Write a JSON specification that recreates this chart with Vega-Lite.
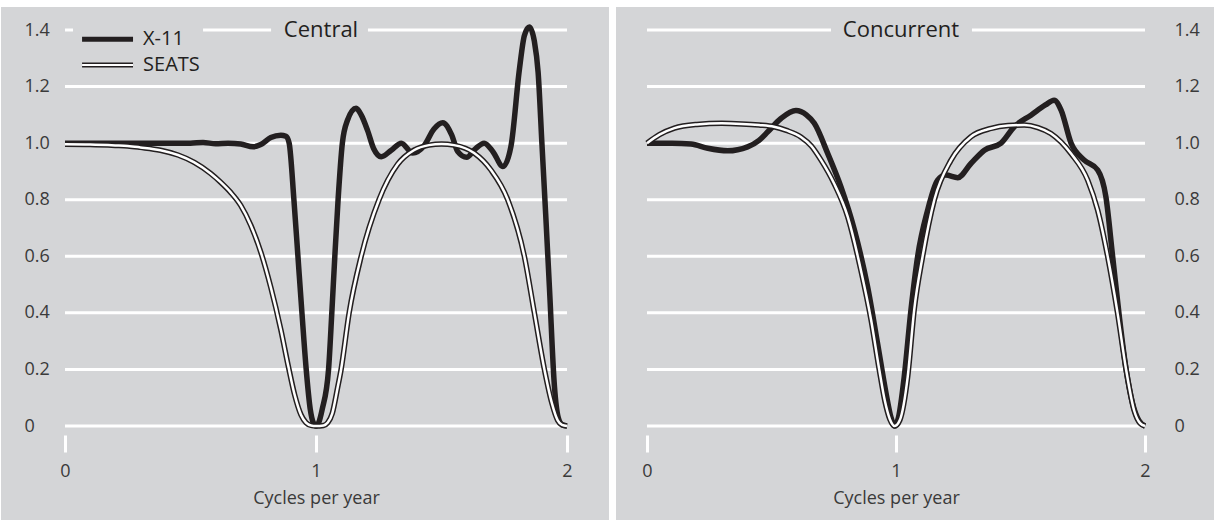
{
"$schema": "https://vega.github.io/schema/vega-lite/v6.json",
"background": "white",
"padding": {"left": 0, "top": 7, "right": 0, "bottom": 0},
"autosize": {"type": "pad"},
"bounds": "flush",
"spacing": 80,
"config": {"view": {"stroke": null}, "font": "Open Sans"},
"datasets": {
"curves": [
{"panel":"Central","series":"X-11","f":0,"v":1.0},{"panel":"Central","series":"X-11","f":0.1,"v":1.0},{"panel":"Central","series":"X-11","f":0.2,"v":1.0},{"panel":"Central","series":"X-11","f":0.3,"v":1.0},{"panel":"Central","series":"X-11","f":0.4,"v":1.0},{"panel":"Central","series":"X-11","f":0.5,"v":1.0},{"panel":"Central","series":"X-11","f":0.55,"v":1.002},{"panel":"Central","series":"X-11","f":0.6,"v":0.998},{"panel":"Central","series":"X-11","f":0.65,"v":1.0},{"panel":"Central","series":"X-11","f":0.7,"v":0.997},{"panel":"Central","series":"X-11","f":0.75,"v":0.987},{"panel":"Central","series":"X-11","f":0.78,"v":0.995},{"panel":"Central","series":"X-11","f":0.82,"v":1.02},{"panel":"Central","series":"X-11","f":0.86,"v":1.028},{"panel":"Central","series":"X-11","f":0.88,"v":1.024},{"panel":"Central","series":"X-11","f":0.893,"v":1.0},{"panel":"Central","series":"X-11","f":0.912,"v":0.8},{"panel":"Central","series":"X-11","f":0.928,"v":0.6},{"panel":"Central","series":"X-11","f":0.944,"v":0.4},{"panel":"Central","series":"X-11","f":0.961,"v":0.2},{"panel":"Central","series":"X-11","f":0.977,"v":0.06},{"panel":"Central","series":"X-11","f":0.99,"v":0.01},{"panel":"Central","series":"X-11","f":1.0,"v":0.0},{"panel":"Central","series":"X-11","f":1.01,"v":0.01},{"panel":"Central","series":"X-11","f":1.025,"v":0.06},{"panel":"Central","series":"X-11","f":1.05,"v":0.2},{"panel":"Central","series":"X-11","f":1.063,"v":0.4},{"panel":"Central","series":"X-11","f":1.075,"v":0.6},{"panel":"Central","series":"X-11","f":1.088,"v":0.8},{"panel":"Central","series":"X-11","f":1.105,"v":1.0},{"panel":"Central","series":"X-11","f":1.125,"v":1.08},{"panel":"Central","series":"X-11","f":1.16,"v":1.123},{"panel":"Central","series":"X-11","f":1.18,"v":1.1},{"panel":"Central","series":"X-11","f":1.205,"v":1.046},{"panel":"Central","series":"X-11","f":1.23,"v":0.98},{"panel":"Central","series":"X-11","f":1.26,"v":0.952},{"panel":"Central","series":"X-11","f":1.3,"v":0.975},{"panel":"Central","series":"X-11","f":1.34,"v":1.0},{"panel":"Central","series":"X-11","f":1.385,"v":0.965},{"panel":"Central","series":"X-11","f":1.43,"v":0.99},{"panel":"Central","series":"X-11","f":1.47,"v":1.05},{"panel":"Central","series":"X-11","f":1.505,"v":1.072},{"panel":"Central","series":"X-11","f":1.54,"v":1.03},{"panel":"Central","series":"X-11","f":1.565,"v":0.97},{"panel":"Central","series":"X-11","f":1.6,"v":0.95},{"panel":"Central","series":"X-11","f":1.635,"v":0.98},{"panel":"Central","series":"X-11","f":1.67,"v":1.0},{"panel":"Central","series":"X-11","f":1.705,"v":0.97},{"panel":"Central","series":"X-11","f":1.745,"v":0.917},{"panel":"Central","series":"X-11","f":1.777,"v":0.99},{"panel":"Central","series":"X-11","f":1.81,"v":1.258},{"panel":"Central","series":"X-11","f":1.83,"v":1.38},{"panel":"Central","series":"X-11","f":1.85,"v":1.411},{"panel":"Central","series":"X-11","f":1.87,"v":1.36},{"panel":"Central","series":"X-11","f":1.885,"v":1.25},{"panel":"Central","series":"X-11","f":1.9,"v":1.0},{"panel":"Central","series":"X-11","f":1.915,"v":0.75},{"panel":"Central","series":"X-11","f":1.93,"v":0.49},{"panel":"Central","series":"X-11","f":1.95,"v":0.14},{"panel":"Central","series":"X-11","f":1.965,"v":0.03},{"panel":"Central","series":"X-11","f":1.98,"v":0.005},{"panel":"Central","series":"X-11","f":2.0,"v":0.0},
{"panel":"Central","series":"SEATS","f":0,"v":0.996},{"panel":"Central","series":"SEATS","f":0.1,"v":0.995},{"panel":"Central","series":"SEATS","f":0.2,"v":0.992},{"panel":"Central","series":"SEATS","f":0.25,"v":0.99},{"panel":"Central","series":"SEATS","f":0.3,"v":0.985},{"panel":"Central","series":"SEATS","f":0.38,"v":0.975},{"panel":"Central","series":"SEATS","f":0.45,"v":0.958},{"panel":"Central","series":"SEATS","f":0.515,"v":0.932},{"panel":"Central","series":"SEATS","f":0.58,"v":0.893},{"panel":"Central","series":"SEATS","f":0.62,"v":0.862},{"panel":"Central","series":"SEATS","f":0.66,"v":0.826},{"panel":"Central","series":"SEATS","f":0.7,"v":0.78},{"panel":"Central","series":"SEATS","f":0.74,"v":0.71},{"panel":"Central","series":"SEATS","f":0.78,"v":0.615},{"panel":"Central","series":"SEATS","f":0.82,"v":0.49},{"panel":"Central","series":"SEATS","f":0.86,"v":0.34},{"panel":"Central","series":"SEATS","f":0.89,"v":0.21},{"panel":"Central","series":"SEATS","f":0.915,"v":0.11},{"panel":"Central","series":"SEATS","f":0.94,"v":0.04},{"panel":"Central","series":"SEATS","f":0.96,"v":0.012},{"panel":"Central","series":"SEATS","f":0.98,"v":0.002},{"panel":"Central","series":"SEATS","f":1.0,"v":0.0},{"panel":"Central","series":"SEATS","f":1.03,"v":0.002},{"panel":"Central","series":"SEATS","f":1.047,"v":0.012},{"panel":"Central","series":"SEATS","f":1.065,"v":0.045},{"panel":"Central","series":"SEATS","f":1.086,"v":0.135},{"panel":"Central","series":"SEATS","f":1.1,"v":0.2},{"panel":"Central","series":"SEATS","f":1.132,"v":0.4},{"panel":"Central","series":"SEATS","f":1.18,"v":0.6},{"panel":"Central","series":"SEATS","f":1.251,"v":0.8},{"panel":"Central","series":"SEATS","f":1.325,"v":0.925},{"panel":"Central","series":"SEATS","f":1.39,"v":0.975},{"panel":"Central","series":"SEATS","f":1.45,"v":0.993},{"panel":"Central","series":"SEATS","f":1.5,"v":0.997},{"panel":"Central","series":"SEATS","f":1.55,"v":0.993},{"panel":"Central","series":"SEATS","f":1.63,"v":0.965},{"panel":"Central","series":"SEATS","f":1.697,"v":0.905},{"panel":"Central","series":"SEATS","f":1.764,"v":0.8},{"panel":"Central","series":"SEATS","f":1.83,"v":0.6},{"panel":"Central","series":"SEATS","f":1.87,"v":0.4},{"panel":"Central","series":"SEATS","f":1.91,"v":0.2},{"panel":"Central","series":"SEATS","f":1.94,"v":0.08},{"panel":"Central","series":"SEATS","f":1.963,"v":0.02},{"panel":"Central","series":"SEATS","f":1.98,"v":0.004},{"panel":"Central","series":"SEATS","f":2.0,"v":0.0},
{"panel":"Concurrent","series":"X-11","f":0,"v":1.0},{"panel":"Concurrent","series":"X-11","f":0.1,"v":1.0},{"panel":"Concurrent","series":"X-11","f":0.177,"v":0.997},{"panel":"Concurrent","series":"X-11","f":0.244,"v":0.982},{"panel":"Concurrent","series":"X-11","f":0.324,"v":0.973},{"panel":"Concurrent","series":"X-11","f":0.404,"v":0.987},{"panel":"Concurrent","series":"X-11","f":0.45,"v":1.01},{"panel":"Concurrent","series":"X-11","f":0.485,"v":1.04},{"panel":"Concurrent","series":"X-11","f":0.538,"v":1.087},{"panel":"Concurrent","series":"X-11","f":0.598,"v":1.115},{"panel":"Concurrent","series":"X-11","f":0.64,"v":1.1},{"panel":"Concurrent","series":"X-11","f":0.672,"v":1.07},{"panel":"Concurrent","series":"X-11","f":0.726,"v":0.963},{"panel":"Concurrent","series":"X-11","f":0.779,"v":0.845},{"panel":"Concurrent","series":"X-11","f":0.833,"v":0.693},{"panel":"Concurrent","series":"X-11","f":0.886,"v":0.492},{"panel":"Concurrent","series":"X-11","f":0.926,"v":0.292},{"panel":"Concurrent","series":"X-11","f":0.96,"v":0.116},{"panel":"Concurrent","series":"X-11","f":0.98,"v":0.03},{"panel":"Concurrent","series":"X-11","f":0.995,"v":0.0},{"panel":"Concurrent","series":"X-11","f":1.01,"v":0.03},{"panel":"Concurrent","series":"X-11","f":1.033,"v":0.174},{"panel":"Concurrent","series":"X-11","f":1.06,"v":0.41},{"panel":"Concurrent","series":"X-11","f":1.087,"v":0.6},{"panel":"Concurrent","series":"X-11","f":1.127,"v":0.763},{"panel":"Concurrent","series":"X-11","f":1.167,"v":0.869},{"panel":"Concurrent","series":"X-11","f":1.2,"v":0.887},{"panel":"Concurrent","series":"X-11","f":1.248,"v":0.878},{"panel":"Concurrent","series":"X-11","f":1.301,"v":0.928},{"panel":"Concurrent","series":"X-11","f":1.355,"v":0.975},{"panel":"Concurrent","series":"X-11","f":1.422,"v":1.0},{"panel":"Concurrent","series":"X-11","f":1.475,"v":1.058},{"panel":"Concurrent","series":"X-11","f":1.542,"v":1.099},{"panel":"Concurrent","series":"X-11","f":1.6,"v":1.135},{"panel":"Concurrent","series":"X-11","f":1.635,"v":1.152},{"panel":"Concurrent","series":"X-11","f":1.663,"v":1.117},{"panel":"Concurrent","series":"X-11","f":1.703,"v":1.0},{"panel":"Concurrent","series":"X-11","f":1.756,"v":0.94},{"panel":"Concurrent","series":"X-11","f":1.81,"v":0.905},{"panel":"Concurrent","series":"X-11","f":1.843,"v":0.81},{"panel":"Concurrent","series":"X-11","f":1.87,"v":0.6},{"panel":"Concurrent","series":"X-11","f":1.897,"v":0.386},{"panel":"Concurrent","series":"X-11","f":1.924,"v":0.2},{"panel":"Concurrent","series":"X-11","f":1.95,"v":0.08},{"panel":"Concurrent","series":"X-11","f":1.975,"v":0.02},{"panel":"Concurrent","series":"X-11","f":2.0,"v":0.0},
{"panel":"Concurrent","series":"SEATS","f":0,"v":1.0},{"panel":"Concurrent","series":"SEATS","f":0.05,"v":1.03},{"panel":"Concurrent","series":"SEATS","f":0.11,"v":1.053},{"panel":"Concurrent","series":"SEATS","f":0.2,"v":1.066},{"panel":"Concurrent","series":"SEATS","f":0.3,"v":1.07},{"panel":"Concurrent","series":"SEATS","f":0.38,"v":1.068},{"panel":"Concurrent","series":"SEATS","f":0.45,"v":1.064},{"panel":"Concurrent","series":"SEATS","f":0.51,"v":1.058},{"panel":"Concurrent","series":"SEATS","f":0.56,"v":1.045},{"panel":"Concurrent","series":"SEATS","f":0.618,"v":1.022},{"panel":"Concurrent","series":"SEATS","f":0.66,"v":0.99},{"panel":"Concurrent","series":"SEATS","f":0.699,"v":0.94},{"panel":"Concurrent","series":"SEATS","f":0.751,"v":0.858},{"panel":"Concurrent","series":"SEATS","f":0.806,"v":0.74},{"panel":"Concurrent","series":"SEATS","f":0.859,"v":0.551},{"panel":"Concurrent","series":"SEATS","f":0.9,"v":0.375},{"panel":"Concurrent","series":"SEATS","f":0.933,"v":0.198},{"panel":"Concurrent","series":"SEATS","f":0.955,"v":0.09},{"panel":"Concurrent","series":"SEATS","f":0.975,"v":0.025},{"panel":"Concurrent","series":"SEATS","f":0.995,"v":0.0},{"panel":"Concurrent","series":"SEATS","f":1.015,"v":0.02},{"panel":"Concurrent","series":"SEATS","f":1.047,"v":0.174},{"panel":"Concurrent","series":"SEATS","f":1.073,"v":0.41},{"panel":"Concurrent","series":"SEATS","f":1.107,"v":0.6},{"panel":"Concurrent","series":"SEATS","f":1.154,"v":0.8},{"panel":"Concurrent","series":"SEATS","f":1.221,"v":0.94},{"panel":"Concurrent","series":"SEATS","f":1.3,"v":1.022},{"panel":"Concurrent","series":"SEATS","f":1.382,"v":1.052},{"panel":"Concurrent","series":"SEATS","f":1.45,"v":1.062},{"panel":"Concurrent","series":"SEATS","f":1.515,"v":1.064},{"panel":"Concurrent","series":"SEATS","f":1.57,"v":1.055},{"panel":"Concurrent","series":"SEATS","f":1.622,"v":1.034},{"panel":"Concurrent","series":"SEATS","f":1.703,"v":0.963},{"panel":"Concurrent","series":"SEATS","f":1.77,"v":0.869},{"panel":"Concurrent","series":"SEATS","f":1.81,"v":0.763},{"panel":"Concurrent","series":"SEATS","f":1.85,"v":0.6},{"panel":"Concurrent","series":"SEATS","f":1.89,"v":0.398},{"panel":"Concurrent","series":"SEATS","f":1.924,"v":0.2},{"panel":"Concurrent","series":"SEATS","f":1.957,"v":0.053},{"panel":"Concurrent","series":"SEATS","f":1.98,"v":0.01},{"panel":"Concurrent","series":"SEATS","f":2.0,"v":0.0}
],
"grid": [
{"panel":"Central","level":0,"from":0,"to":2},{"panel":"Central","level":0.2,"from":0,"to":2},{"panel":"Central","level":0.4,"from":0,"to":2},{"panel":"Central","level":0.6,"from":0,"to":2},{"panel":"Central","level":0.8,"from":0,"to":2},{"panel":"Central","level":1.0,"from":0,"to":2},{"panel":"Central","level":1.2,"from":0,"to":2},{"panel":"Central","level":1.4,"from":0,"to":0.032},{"panel":"Central","level":1.4,"from":0.55,"to":0.821},{"panel":"Central","level":1.4,"from":1.207,"to":2},
{"panel":"Concurrent","level":0,"from":0,"to":2},{"panel":"Concurrent","level":0.2,"from":0,"to":2},{"panel":"Concurrent","level":0.4,"from":0,"to":2},{"panel":"Concurrent","level":0.6,"from":0,"to":2},{"panel":"Concurrent","level":0.8,"from":0,"to":2},{"panel":"Concurrent","level":1.0,"from":0,"to":2},{"panel":"Concurrent","level":1.2,"from":0,"to":2},{"panel":"Concurrent","level":1.4,"from":0,"to":0.739},{"panel":"Concurrent","level":1.4,"from":1.305,"to":2}
]
},
"hconcat": [
{
"width": 502, "height": 396,
"layer": [
{"data": {"values": [{}]},
 "mark": {"type": "rect", "color": "#d4d5d7", "clip": false},
 "encoding": {
  "x": {"datum": -0.255, "type": "quantitative", "scale": {"domain": [0, 2], "nice": false, "zero": false}, "title": "Cycles per year",
        "axis": {"values": [0, 1, 2], "labelExpr": "'' + round(datum.value)", "labelOverlap": false, "orient": "bottom", "offset": 9, "tickSize": 17, "tickWidth": 3, "tickColor": "white", "domain": false, "grid": false, "labelPadding": 10, "labelFontSize": 18, "labelColor": "#3a3a3a", "labelFlush": false, "titleFontSize": 18, "titleColor": "#3a3a3a", "titleFontWeight": "normal", "titlePadding": 9, "zindex": 1}},
  "x2": {"datum": 2.1673},
  "y": {"datum": 1.4813, "type": "quantitative", "scale": {"domain": [0, 1.4], "nice": false, "zero": false}, "title": null,
        "axis": {"values": [0, 0.2, 0.4, 0.6, 0.8, 1.0, 1.2, 1.4], "orient": "left", "domain": false, "ticks": false, "tickSize": 0, "grid": false, "labelAlign": "left", "labelBaseline": "middle", "labelPadding": 41, "labelFontSize": 18, "labelColor": "#3a3a3a", "labelFlush": false, "labelOverlap": false, "labelExpr": "datum.value == 0 ? '0' : format(datum.value, '.1f')", "zindex": 1}},
  "y2": {"datum": -0.3323}
 }},
{"data": {"name": "grid"},
 "transform": [{"filter": "datum.panel == 'Central'"}],
 "mark": {"type": "rule", "color": "white", "strokeWidth": 3},
 "encoding": {
  "x": {"field": "from", "type": "quantitative", "scale": {"domain": [0, 2], "nice": false, "zero": false}, "title": "Cycles per year"},
  "x2": {"field": "to"},
  "y": {"field": "level", "type": "quantitative", "scale": {"domain": [0, 1.4], "nice": false, "zero": false}, "title": null}
 }},
{"data": {"name": "curves"},
 "transform": [{"filter": "datum.panel == 'Central' && datum.series == 'X-11'"}],
 "mark": {"type": "line", "color": "#231f20", "strokeWidth": 5.5, "interpolate": "monotone"},
 "encoding": {
  "x": {"field": "f", "type": "quantitative", "scale": {"domain": [0, 2], "nice": false, "zero": false}, "title": "Cycles per year"},
  "y": {"field": "v", "type": "quantitative", "scale": {"domain": [0, 1.4], "nice": false, "zero": false}, "title": null}
 }},
{"data": {"name": "curves"},
 "transform": [{"filter": "datum.panel == 'Central' && datum.series == 'SEATS'"}],
 "mark": {"type": "line", "color": "#231f20", "strokeWidth": 5.5, "interpolate": "monotone"},
 "encoding": {
  "x": {"field": "f", "type": "quantitative", "scale": {"domain": [0, 2], "nice": false, "zero": false}, "title": "Cycles per year"},
  "y": {"field": "v", "type": "quantitative", "scale": {"domain": [0, 1.4], "nice": false, "zero": false}, "title": null}
 }},
{"data": {"name": "curves"},
 "transform": [{"filter": "datum.panel == 'Central' && datum.series == 'SEATS'"}],
 "mark": {"type": "line", "color": "white", "strokeWidth": 2.5, "interpolate": "monotone"},
 "encoding": {
  "x": {"field": "f", "type": "quantitative", "scale": {"domain": [0, 2], "nice": false, "zero": false}, "title": "Cycles per year"},
  "y": {"field": "v", "type": "quantitative", "scale": {"domain": [0, 1.4], "nice": false, "zero": false}, "title": null}
 }},
{"data": {"values": [{}]},
 "mark": {"type": "rule", "color": "#231f20", "strokeWidth": 5},
 "encoding": {"x": {"datum": 0.068, "type": "quantitative", "title": "Cycles per year"}, "x2": {"datum": 0.271}, "y": {"datum": 1.3675, "type": "quantitative", "title": null}}},
{"data": {"values": [{}]},
 "mark": {"type": "rule", "color": "#231f20", "strokeWidth": 5},
 "encoding": {"x": {"datum": 0.068, "type": "quantitative", "title": "Cycles per year"}, "x2": {"datum": 0.271}, "y": {"datum": 1.276, "type": "quantitative", "title": null}}},
{"data": {"values": [{}]},
 "mark": {"type": "rule", "color": "white", "strokeWidth": 2},
 "encoding": {"x": {"datum": 0.068, "type": "quantitative", "title": "Cycles per year"}, "x2": {"datum": 0.271}, "y": {"datum": 1.276, "type": "quantitative", "title": null}}},
{"data": {"values": [{"label": "X-11", "lv": 1.3675}, {"label": "SEATS", "lv": 1.276}]},
 "mark": {"type": "text", "align": "left", "baseline": "middle", "fontSize": 20, "color": "#231f20"},
 "encoding": {"x": {"datum": 0.311, "type": "quantitative", "title": "Cycles per year"}, "y": {"field": "lv", "type": "quantitative", "title": null}, "text": {"field": "label"}}},
{"data": {"values": [{}]},
 "mark": {"type": "text", "text": "Central", "align": "center", "baseline": "middle", "fontSize": 22, "color": "#231f20"},
 "encoding": {"x": {"datum": 1.02, "type": "quantitative", "title": "Cycles per year"}, "y": {"datum": 1.4, "type": "quantitative", "title": null}}}
]
},
{
"width": 498, "height": 396,
"layer": [
{"data": {"values": [{}]},
 "mark": {"type": "rect", "color": "#d4d5d7", "clip": false},
 "encoding": {
  "x": {"datum": -0.1245, "type": "quantitative", "scale": {"domain": [0, 2], "nice": false, "zero": false}, "title": "Cycles per year",
        "axis": {"values": [0, 1, 2], "labelExpr": "'' + round(datum.value)", "labelOverlap": false, "orient": "bottom", "offset": 9, "tickSize": 17, "tickWidth": 3, "tickColor": "white", "domain": false, "grid": false, "labelPadding": 10, "labelFontSize": 18, "labelColor": "#3a3a3a", "labelFlush": false, "titleFontSize": 18, "titleColor": "#3a3a3a", "titleFontWeight": "normal", "titlePadding": 9, "zindex": 1}},
  "x2": {"datum": 2.2811},
  "y": {"datum": 1.4813, "type": "quantitative", "scale": {"domain": [0, 1.4], "nice": false, "zero": false}, "title": null,
        "axis": {"values": [0, 0.2, 0.4, 0.6, 0.8, 1.0, 1.2, 1.4], "orient": "right", "domain": false, "ticks": false, "tickSize": 0, "grid": false, "labelAlign": "left", "labelBaseline": "middle", "labelPadding": 29, "labelFontSize": 18, "labelColor": "#3a3a3a", "labelFlush": false, "labelOverlap": false, "labelExpr": "datum.value == 0 ? '0' : format(datum.value, '.1f')", "zindex": 1}},
  "y2": {"datum": -0.3323}
 }},
{"data": {"name": "grid"},
 "transform": [{"filter": "datum.panel == 'Concurrent'"}],
 "mark": {"type": "rule", "color": "white", "strokeWidth": 3},
 "encoding": {
  "x": {"field": "from", "type": "quantitative", "scale": {"domain": [0, 2], "nice": false, "zero": false}, "title": "Cycles per year"},
  "x2": {"field": "to"},
  "y": {"field": "level", "type": "quantitative", "scale": {"domain": [0, 1.4], "nice": false, "zero": false}, "title": null}
 }},
{"data": {"name": "curves"},
 "transform": [{"filter": "datum.panel == 'Concurrent' && datum.series == 'X-11'"}],
 "mark": {"type": "line", "color": "#231f20", "strokeWidth": 5.5, "interpolate": "monotone"},
 "encoding": {
  "x": {"field": "f", "type": "quantitative", "scale": {"domain": [0, 2], "nice": false, "zero": false}, "title": "Cycles per year"},
  "y": {"field": "v", "type": "quantitative", "scale": {"domain": [0, 1.4], "nice": false, "zero": false}, "title": null}
 }},
{"data": {"name": "curves"},
 "transform": [{"filter": "datum.panel == 'Concurrent' && datum.series == 'SEATS'"}],
 "mark": {"type": "line", "color": "#231f20", "strokeWidth": 5.5, "interpolate": "monotone"},
 "encoding": {
  "x": {"field": "f", "type": "quantitative", "scale": {"domain": [0, 2], "nice": false, "zero": false}, "title": "Cycles per year"},
  "y": {"field": "v", "type": "quantitative", "scale": {"domain": [0, 1.4], "nice": false, "zero": false}, "title": null}
 }},
{"data": {"name": "curves"},
 "transform": [{"filter": "datum.panel == 'Concurrent' && datum.series == 'SEATS'"}],
 "mark": {"type": "line", "color": "white", "strokeWidth": 2.5, "interpolate": "monotone"},
 "encoding": {
  "x": {"field": "f", "type": "quantitative", "scale": {"domain": [0, 2], "nice": false, "zero": false}, "title": "Cycles per year"},
  "y": {"field": "v", "type": "quantitative", "scale": {"domain": [0, 1.4], "nice": false, "zero": false}, "title": null}
 }},
{"data": {"values": [{}]},
 "mark": {"type": "text", "text": "Concurrent", "align": "center", "baseline": "middle", "fontSize": 22, "color": "#231f20"},
 "encoding": {"x": {"datum": 1.02, "type": "quantitative", "title": "Cycles per year"}, "y": {"datum": 1.4, "type": "quantitative", "title": null}}}
]
}
]
}
